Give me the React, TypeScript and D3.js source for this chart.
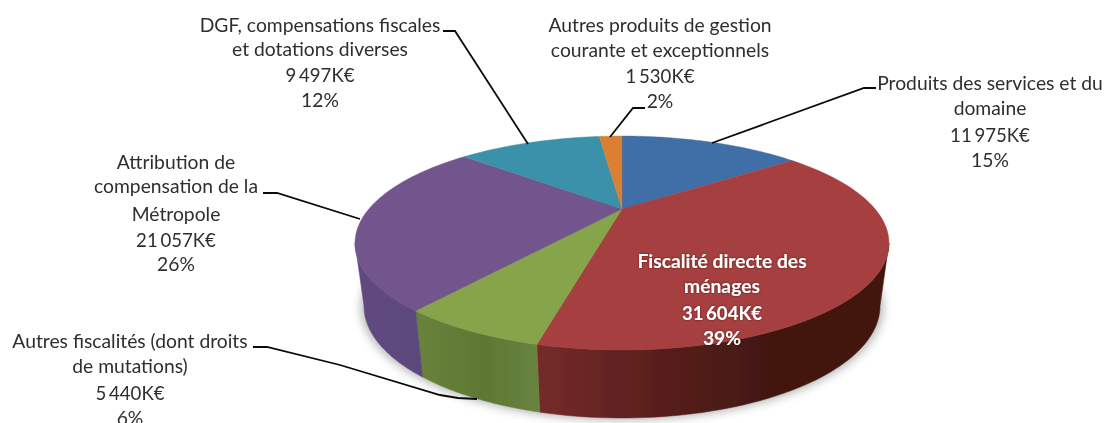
import React from "react";
import * as d3 from "d3";

const categories = [
  "Produits des services et du domaine",
  "Fiscalité directe des ménages",
  "Autres fiscalités (dont droits de mutations)",
  "Attribution de compensation de la Métropole",
  "DGF, compensations fiscales et dotations diverses",
  "Autres produits de gestion courante et exceptionnels",
];
const values = [11975, 31604, 5440, 21057, 9497, 1530];
const topColors = ["#3f6ea6", "#a64140", "#86a44a", "#72548c", "#3a90aa", "#db8033"];
const sideStops = [
  ["#2f5480", "#264466"],
  ["#752b2a", "#5a1f1d", "#421811", "#421811"],
  ["#68823a", "#5d7833", "#688440"],
  ["#5f4a80", "#5c477b"],
  ["#2b6c80", "#235a6b"],
  ["#a5601f", "#8a5019"],
];
const sideRange = [[700, 880], [540, 880], [424, 541], [360, 424], [360, 500], [600, 630]];
const labelLines = [
  ["Produits des services et du", "domaine", "11 975K€", "15%"],
  ["Fiscalité directe des", "ménages", "31 604K€", "39%"],
  ["Autres fiscalités (dont droits", "de mutations)", "5 440K€", "6%"],
  ["Attribution de", "compensation de la", "Métropole", "21 057K€", "26%"],
  ["DGF, compensations fiscales", "et dotations diverses", "9 497K€", "12%"],
  ["Autres produits de gestion", "courante et exceptionnels", "1 530K€", "2%"],
];
const labelX = [990, 722, 130, 176, 320, 660];
const labelY = [[90, 115, 142, 167], [268, 293, 320, 345], [348, 373, 400, 425], [169, 193, 221, 247, 271], [32, 56, 82, 107], [32, 57, 83, 108]];
const leaders: [number, number][][] = [
  [[876, 88], [864, 88], [712, 143]],
  [],
  [[253, 347], [267, 347], [340, 365], [440, 395], [458, 398], [477, 399]],
  [[263, 193], [277, 193], [360, 219]],
  [[443, 31], [455, 31], [528, 144]],
  [[645, 108], [633, 108], [610, 137]],
];

const topE = { cx: 622, cy: 243, rx: 267, ry: 107 };
const botE = { cx: 622, cy: 306, rx: 258, ry: 112 };
const hubH = -0.318;
const sideLimit = Math.acos(hubH); // angle where the rim reaches the ellipse's widest point

function project(theta: number) {
  const u = Math.sin(theta), v = -Math.cos(theta);
  const d = 1 + hubH * v;
  return [u * Math.sqrt(1 - hubH * hubH) / d, (v + hubH) / d];
}
function makeScales(e: typeof topE) {
  return {
    x: d3.scaleLinear().domain([-1, 1]).range([e.cx - e.rx, e.cx + e.rx]),
    y: d3.scaleLinear().domain([-1, 1]).range([e.cy - e.ry, e.cy + e.ry]),
  };
}
const topS = makeScales(topE);
const botS = makeScales(botE);
const line = d3.line();

function arcPts(a0: number, a1: number, s: ReturnType<typeof makeScales>) {
  return d3.range(0, 61).map((i) => {
    const [px, py] = project(a0 + ((a1 - a0) * i) / 60);
    return [s.x(px), s.y(py)] as [number, number];
  });
}

const font = "Lato, 'Open Sans', sans-serif";

export default function App() {
  const arcs = d3.pie<number>().sort(null)(values);
  const hub: [number, number] = [topS.x(0), topS.y(hubH)];
  const front = arcs
    .map((a, i) => ({ i, a0: Math.max(a.startAngle, sideLimit), a1: Math.min(a.endAngle, 2 * Math.PI - sideLimit) }))
    .filter((d) => d.a1 > d.a0);
  return (
    <svg width={1106} height={423} style={{ position: "absolute", left: 0, top: 0, background: "#fff" }}>
      <defs>
        <filter id="soft" x="-10%" y="-10%" width="120%" height="120%">
          <feGaussianBlur stdDeviation="5" />
        </filter>
        <filter id="aa"><feGaussianBlur stdDeviation="0.5" /></filter>
        <filter id="txt" x="-5%" y="-20%" width="110%" height="140%"><feGaussianBlur stdDeviation="0.3" /></filter>
        <filter id="glow" x="-10%" y="-20%" width="120%" height="140%">
          <feGaussianBlur in="SourceAlpha" stdDeviation="1.2" result="b" />
          <feFlood floodColor="#3a1010" floodOpacity="0.7" />
          <feComposite in2="b" operator="in" result="s" />
          <feMerge><feMergeNode in="s" /><feMergeNode in="SourceGraphic" /></feMerge>
        </filter>
        {sideStops.map((stops, i) => (
          <linearGradient id={`g${i}`} key={i} gradientUnits="userSpaceOnUse" x1={sideRange[i][0]} x2={sideRange[i][1]} y1={0} y2={0}>
            {stops.map((c, j) => <stop key={j} offset={j / (stops.length - 1)} stopColor={c} />)}
          </linearGradient>
        ))}
      </defs>
      <ellipse cx={botE.cx} cy={botE.cy + 1} rx={botE.rx + 3} ry={botE.ry + 1} fill="#777" opacity={0.55} filter="url(#soft)" />
      <g filter="url(#aa)">
        {front.map(({ i, a0, a1 }) => {
          const t = arcPts(a0, a1, topS);
          const b = arcPts(a0, a1, botS).reverse();
          return <path key={i} d={line([...t, ...b])! + "Z"} fill={`url(#g${i})`} stroke={`url(#g${i})`} strokeWidth={0.5} />;
        })}
        {arcs.map((a, i) => (
          <path key={i} d={line([hub, ...arcPts(a.startAngle, a.endAngle, topS)])! + "Z"} fill={topColors[i]} stroke={topColors[i]} strokeWidth={0.4} />
        ))}
      </g>
      {leaders.map((l, i) =>
        l.length ? <path key={i} d={line(l)!} fill="none" stroke="#0a0a0a" strokeWidth={1.8} /> : null
      )}
      {labelLines.map((ls, i) =>
        ls.map((t, j) => {
          const isNumber = /\dK€/.test(t);
          return (
            <text key={`${i}-${j}`} x={labelX[i]} y={labelY[i][j]} textAnchor="middle" fontFamily={font}
              fontSize={isNumber ? 18.6 : 19.3} wordSpacing={isNumber ? -2 : 0}
              fontWeight={i === 1 ? 700 : 400} fill={i === 1 ? "#fff" : "#2e2e2e"} filter={i === 1 ? "url(#glow)" : "url(#txt)"}>
              {t}
            </text>
          );
        })
      )}
    </svg>
  );
}
